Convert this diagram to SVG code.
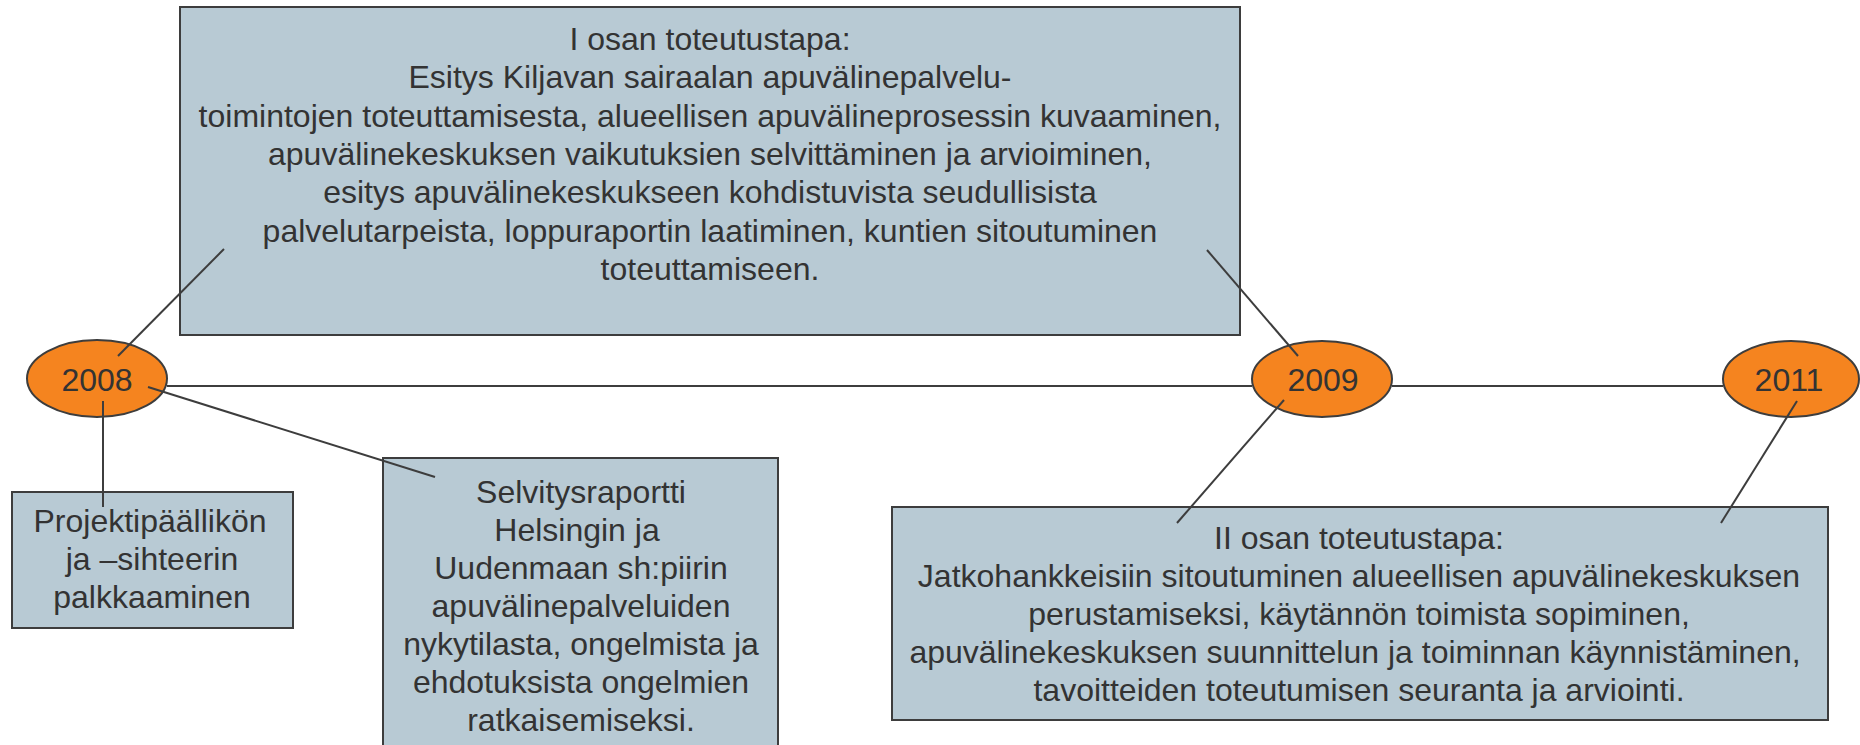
<svg xmlns="http://www.w3.org/2000/svg" width="1860" height="745" viewBox="0 0 1860 745">
<style>
.box{fill:#b8cad4;stroke:#3d3d3d;stroke-width:2}
.yr{fill:#f5841f;stroke:#3d3d3d;stroke-width:2}
.t{font-family:"Liberation Sans",Arial,sans-serif;font-size:32px;fill:#333333;text-anchor:middle}
.c{stroke:#3d3d3d;stroke-width:2;fill:none}
</style>
<rect width="1860" height="745" fill="#ffffff"/>
<g id="box-osa1">
<rect class="box" x="180" y="7" width="1060" height="328"/>
<text class="t"><tspan x="710" y="50">I osan toteutustapa:</tspan><tspan x="710" y="88">Esitys Kiljavan sairaalan apuvälinepalvelu-</tspan><tspan x="710" y="127">toimintojen toteuttamisesta, alueellisen apuvälineprosessin kuvaaminen,</tspan><tspan x="710" y="165">apuvälinekeskuksen vaikutuksien selvittäminen ja arvioiminen,</tspan><tspan x="710" y="203">esitys apuvälinekeskukseen kohdistuvista seudullisista</tspan><tspan x="710" y="242">palvelutarpeista, loppuraportin laatiminen, kuntien sitoutuminen</tspan><tspan x="710" y="280">toteuttamiseen.</tspan></text>
</g>
<g id="box-projekti">
<rect class="box" x="12" y="492" width="281" height="136"/>
<text class="t"><tspan x="150" y="532">Projektipäällikön</tspan><tspan x="152" y="570">ja –sihteerin</tspan><tspan x="152" y="608">palkkaaminen</tspan></text>
</g>
<g id="box-selvitys">
<rect class="box" x="383" y="458" width="395" height="300"/>
<text class="t"><tspan x="581" y="503">Selvitysraportti</tspan><tspan x="577" y="541">Helsingin ja</tspan><tspan x="581" y="579">Uudenmaan sh:piirin</tspan><tspan x="581" y="617">apuvälinepalveluiden</tspan><tspan x="581" y="655">nykytilasta, ongelmista ja</tspan><tspan x="581" y="693">ehdotuksista ongelmien</tspan><tspan x="581" y="731">ratkaisemiseksi.</tspan></text>
</g>
<g id="box-osa2">
<rect class="box" x="892" y="507" width="936" height="213"/>
<text class="t"><tspan x="1359" y="549">II osan toteutustapa:</tspan><tspan x="1359" y="587">Jatkohankkeisiin sitoutuminen alueellisen apuvälinekeskuksen</tspan><tspan x="1359" y="625">perustamiseksi, käytännön toimista sopiminen,</tspan><tspan x="1355" y="663">apuvälinekeskuksen suunnittelun ja toiminnan käynnistäminen,</tspan><tspan x="1359" y="701">tavoitteiden toteutumisen seuranta ja arviointi.</tspan></text>
</g>
<g id="year-2008">
<ellipse class="yr" cx="97" cy="378.5" rx="70" ry="38.5"/>
<text class="t" x="97" y="391">2008</text>
</g>
<g id="year-2009">
<ellipse class="yr" cx="1322" cy="379" rx="70" ry="38"/>
<text class="t" x="1323" y="391">2009</text>
</g>
<g id="year-2011">
<ellipse class="yr" cx="1791" cy="379" rx="68" ry="38"/>
<text class="t" x="1789" y="391">2011</text>
</g>
<g id="connectors">
<line class="c" x1="167" y1="386" x2="1252" y2="386"/>
<line class="c" x1="1392" y1="386" x2="1723" y2="386"/>
<line class="c" x1="118" y1="356" x2="224" y2="249"/>
<line class="c" x1="103" y1="401" x2="103" y2="507"/>
<line class="c" x1="148" y1="387" x2="435" y2="477"/>
<line class="c" x1="1207" y1="250" x2="1298" y2="356"/>
<line class="c" x1="1284" y1="400" x2="1177" y2="523"/>
<line class="c" x1="1797" y1="401" x2="1721" y2="523"/>
</g>
</svg>
